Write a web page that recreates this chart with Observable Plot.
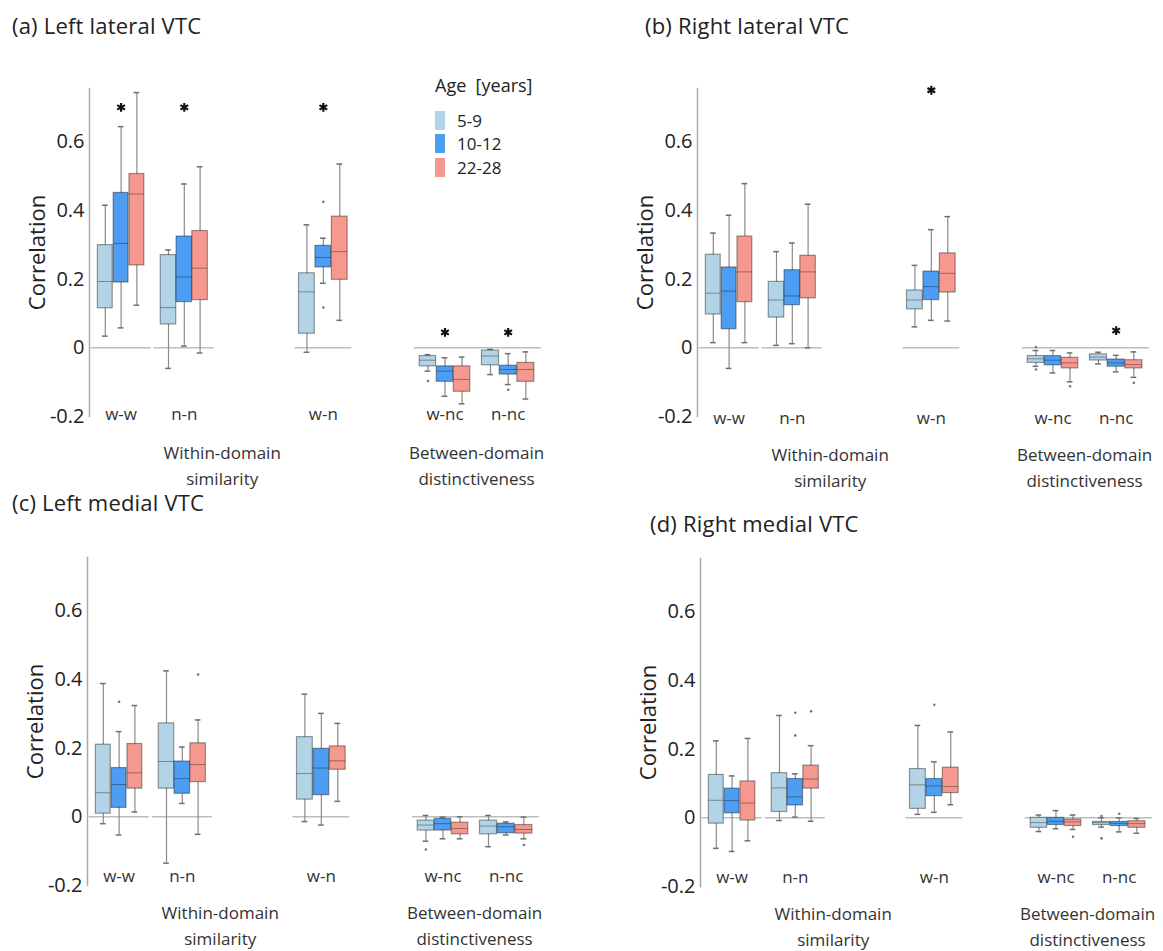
<!DOCTYPE html>
<html><head><meta charset="utf-8">
<script src="https://cdn.jsdelivr.net/npm/d3@7"></script>
<script src="https://cdn.jsdelivr.net/npm/@observablehq/plot@0.6"></script>
<style>
html,body{margin:0;padding:0;background:#fff;overflow:hidden}
#fig{position:relative;width:1163px;height:951px;overflow:hidden;font-family:"Open Sans","Noto Sans",sans-serif;color:#222}
.panel{position:absolute;width:600px}
.panel svg{overflow:visible;max-width:none !important}
.title{position:absolute;font-size:22px;letter-spacing:0.2px;line-height:22px;white-space:nowrap;color:#222}
.legend{position:absolute;font-size:17px;color:#222;width:130px}
.legend .lt{position:absolute;left:0;top:0;line-height:26px;white-space:pre;font-size:18px}
.legend .item{position:absolute;left:0;height:20px;display:flex;align-items:center;white-space:nowrap}
.legend .sw{width:10px;height:19px;margin-right:12px;flex:none}
</style></head><body><div id="fig"></div>
<script>
// ---------- data ----------
const categories = ["w-w", "n-n", "w-n", "w-nc", "n-nc"];
const ages = ["5-9", "10-12", "22-28"];
const ageColors = ["#b3d3e6", "#4d9ef2", "#f5998f"];
const yTicks = [-0.2, 0, 0.2, 0.4, 0.6];
const panelTitles = ["(a) Left lateral VTC", "(b) Right lateral VTC", "(c) Left medial VTC", "(d) Right medial VTC"];
const groupNames = ["Within-domain\nsimilarity", "Between-domain\ndistinctiveness"];
const groupMembers = [["w-w", "n-n", "w-n"], ["w-nc", "n-nc"]];

// rows: category x age (5-9, 10-12, 22-28); [whisker low, q1, median, q3, whisker high]
const leftLateral = [
  [0.034, 0.115, 0.193, 0.299, 0.415], [0.058, 0.190, 0.304, 0.451, 0.644], [0.124, 0.240, 0.448, 0.506, 0.743],
  [-0.060, 0.068, 0.117, 0.270, 0.285], [0.005, 0.133, 0.206, 0.324, 0.477], [-0.015, 0.139, 0.232, 0.340, 0.527],
  [-0.013, 0.041, 0.163, 0.217, 0.358], [0.188, 0.234, 0.263, 0.297, 0.319], [0.080, 0.198, 0.280, 0.382, 0.535],
  [-0.068, -0.054, -0.036, -0.024, -0.020], [-0.141, -0.099, -0.068, -0.054, -0.029], [-0.163, -0.128, -0.092, -0.054, -0.027],
  [-0.078, -0.051, -0.024, -0.008, -0.005], [-0.107, -0.078, -0.063, -0.052, -0.017], [-0.149, -0.099, -0.063, -0.044, -0.012]
];
const rightLateral = [
  [0.015, 0.097, 0.159, 0.271, 0.334], [-0.060, 0.054, 0.165, 0.234, 0.386], [0.015, 0.133, 0.221, 0.324, 0.478],
  [0.007, 0.088, 0.139, 0.192, 0.280], [0.012, 0.124, 0.151, 0.226, 0.305], [0.000, 0.144, 0.221, 0.268, 0.418],
  [0.061, 0.112, 0.139, 0.167, 0.240], [0.080, 0.139, 0.178, 0.222, 0.344], [0.078, 0.161, 0.217, 0.275, 0.382],
  [-0.054, -0.044, -0.032, -0.024, -0.008], [-0.073, -0.051, -0.036, -0.024, -0.008], [-0.099, -0.060, -0.044, -0.029, -0.015],
  [-0.047, -0.037, -0.027, -0.019, -0.013], [-0.070, -0.055, -0.044, -0.034, -0.022], [-0.086, -0.060, -0.049, -0.036, -0.012]
];
const leftMedial = [
  [-0.020, 0.009, 0.070, 0.210, 0.388], [-0.053, 0.026, 0.094, 0.142, 0.248], [0.014, 0.082, 0.128, 0.212, 0.324],
  [-0.135, 0.082, 0.161, 0.272, 0.425], [0.039, 0.067, 0.111, 0.161, 0.203], [-0.051, 0.101, 0.152, 0.214, 0.282],
  [-0.014, 0.050, 0.126, 0.232, 0.357], [-0.024, 0.063, 0.142, 0.198, 0.301], [0.045, 0.137, 0.163, 0.205, 0.272],
  [-0.071, -0.040, -0.024, -0.011, 0.004], [-0.064, -0.040, -0.020, -0.006, -0.001], [-0.064, -0.051, -0.034, -0.017, 0.000],
  [-0.087, -0.051, -0.027, -0.011, 0.004], [-0.053, -0.048, -0.029, -0.020, -0.015], [-0.064, -0.049, -0.037, -0.024, -0.001]
];
const rightMedial = [
  [-0.089, -0.017, 0.051, 0.125, 0.224], [-0.098, 0.013, 0.050, 0.085, 0.122], [-0.067, -0.008, 0.043, 0.106, 0.231],
  [-0.008, 0.017, 0.087, 0.130, 0.298], [0.002, 0.036, 0.061, 0.113, 0.128], [-0.010, 0.085, 0.113, 0.152, 0.210],
  [0.010, 0.026, 0.096, 0.142, 0.269], [0.016, 0.063, 0.093, 0.113, 0.163], [0.038, 0.072, 0.091, 0.146, 0.250],
  [-0.040, -0.029, -0.014, 0.000, 0.008], [-0.032, -0.021, -0.010, 0.000, 0.021], [-0.034, -0.024, -0.012, -0.005, 0.008],
  [-0.027, -0.021, -0.014, -0.012, 0.000], [-0.041, -0.024, -0.016, -0.012, 0.000], [-0.045, -0.029, -0.017, -0.010, -0.002]
];

// outliers: [category, age, value]
const leftLateralOutliers = [["w-n", "10-12", 0.425], ["w-n", "10-12", 0.117], ["w-nc", "5-9", -0.097], ["n-nc", "10-12", -0.122]];
const rightLateralOutliers = [["w-nc", "5-9", -0.063], ["w-nc", "5-9", 0.002], ["w-nc", "22-28", -0.112], ["n-nc", "22-28", -0.102]];
const leftMedialOutliers = [["w-w", "10-12", 0.335], ["n-n", "22-28", 0.414], ["w-nc", "5-9", -0.095], ["n-nc", "22-28", -0.082]];
const rightMedialOutliers = [["n-n", "10-12", 0.306], ["n-n", "10-12", 0.240], ["n-n", "22-28", 0.310], ["w-n", "10-12", 0.329],
  ["w-nc", "22-28", -0.055], ["n-nc", "5-9", 0.005], ["n-nc", "5-9", -0.060], ["n-nc", "10-12", 0.012]];

// significant age effects: [category, y of the asterisk]
const leftLateralSig = [["w-w", 0.70], ["n-n", 0.70], ["w-n", 0.70], ["w-nc", 0.045], ["n-nc", 0.045]];
const rightLateralSig = [["w-n", 0.75], ["n-nc", 0.05]];
const leftMedialSig = [];
const rightMedialSig = [];

// ---------- layout ----------
const slot = {"w-w": 1, "n-n": 3, "w-n": 7.4, "w-nc": 11.25, "n-nc": 13.25};   // x-scale units
const spread = {"w-w": 0.5, "n-n": 0.5, "w-n": 0.52, "w-nc": 0.54, "n-nc": 0.56};
const halfBox = {"w-w": 0.235, "n-n": 0.245, "w-n": 0.25, "w-nc": 0.26, "n-nc": 0.27};
const zeroHalf = {"w-w": 0.95, "n-n": 0.95, "w-n": 0.9, "w-nc": 0.97, "n-nc": 1.05};
const panels = [
  {rows: leftLateral, outliers: leftLateralOutliers, sig: leftLateralSig, left: 0, top: 40, labDy: 3, grpDy: 47, tl: 12, tt: 14},
  {rows: rightLateral, outliers: rightLateralOutliers, sig: rightLateralSig, left: 608, top: 40, labDy: 7, grpDy: 49, tl: 645, tt: 14},
  {rows: leftMedial, outliers: leftMedialOutliers, sig: leftMedialSig, left: -2, top: 509, labDy: -4, grpDy: 38, tl: 12, tt: 491},
  {rows: rightMedial, outliers: rightMedialOutliers, sig: rightMedialSig, left: 611, top: 510, labDy: -4, grpDy: 38, tl: 650, tt: 512}
];

const fig = document.getElementById("fig");
const bx = (cat, age) => slot[cat] + (ages.indexOf(age) - 1) * spread[cat];

function makePanel(p) {
  const data = p.rows.map((r, i) => ({cat: categories[Math.floor(i / 3)], age: ages[i % 3],
    lo: r[0], q1: r[1], med: r[2], q3: r[3], hi: r[4]}));
  const outs = p.outliers.map(([cat, age, v]) => ({cat, age, v}));
  const sig = p.sig.map(([cat, y]) => ({cat, y}));
  const groups = groupNames.map((name, i) => ({name,
    x: (slot[groupMembers[i][0]] + slot[groupMembers[i][groupMembers[i].length - 1]]) / 2}));
  const cap = 0.09;
  const svg = Plot.plot({
    width: 600, height: 460,
    marginLeft: 89, marginRight: 46.5, marginTop: 48, marginBottom: 84,
    style: {fontFamily: '"Open Sans","Noto Sans",sans-serif', background: "transparent", color: "#222", maxWidth: "none"},
    x: {domain: [0, 14.7], axis: null},
    y: {domain: [-0.2, 0.755], axis: null},
    color: {domain: ages, range: ageColors},
    marks: [
      Plot.frame({anchor: "left", stroke: "#a9a9a9", strokeWidth: 1.5}),
      Plot.axisY({ticks: yTicks, tickSize: 0, tickPadding: 5, label: null, fontSize: 20,
        tickFormat: d => d === 0 ? "0" : String(d)}),
      Plot.text(["Correlation"], {frameAnchor: "left", rotate: -90, dx: -52, textAnchor: "middle", fontSize: 22,
        ariaLabel: "ylabel"}),
      Plot.ruleY(categories, {y: 0, x1: c => slot[c] - zeroHalf[c], x2: c => slot[c] + zeroHalf[c],
        stroke: "#bdbdbd", strokeWidth: 1.5}),
      Plot.ruleX(data, {x: d => bx(d.cat, d.age), y1: "lo", y2: "hi", stroke: "#8a8a8a", strokeWidth: 1.2}),
      Plot.ruleY(data, {y: "hi", x1: d => bx(d.cat, d.age) - cap, x2: d => bx(d.cat, d.age) + cap, stroke: "#6f6f6f", strokeWidth: 1.5}),
      Plot.ruleY(data, {y: "lo", x1: d => bx(d.cat, d.age) - cap, x2: d => bx(d.cat, d.age) + cap, stroke: "#6f6f6f", strokeWidth: 1.5}),
      Plot.rect(data, {x1: d => bx(d.cat, d.age) - halfBox[d.cat], x2: d => bx(d.cat, d.age) + halfBox[d.cat],
        y1: "q1", y2: "q3", fill: "age", stroke: "#000", strokeOpacity: 0.38, strokeWidth: 1.2}),
      Plot.ruleY(data, {y: "med", x1: d => bx(d.cat, d.age) - halfBox[d.cat], x2: d => bx(d.cat, d.age) + halfBox[d.cat],
        stroke: "#000", strokeOpacity: 0.35, strokeWidth: 1}),
      Plot.dot(outs, {x: d => bx(d.cat, d.age), y: "v", r: 1.3, fill: "#777"}),
      Plot.dot(sig, {x: d => slot[d.cat], y: "y", symbol: "asterisk", r: 4.2, stroke: "#111", strokeWidth: 2.2}),
      Plot.text(categories, {x: c => slot[c], frameAnchor: "bottom", dy: p.labDy, fontSize: 17, fill: "#333",
        ariaLabel: "xlabels"}),
      Plot.text(groups, {x: "x", text: "name", frameAnchor: "bottom", dy: p.grpDy, lineAnchor: "middle",
        lineHeight: 1.55, fontSize: 17, fill: "#333", ariaLabel: "grouplabels"})
    ]
  });
  d3.select(svg).selectAll('g[aria-label="xlabels"]').attr("letter-spacing", "0.8px");
  d3.select(svg).selectAll('g[aria-label="grouplabels"]').attr("letter-spacing", "1px");
  d3.select(svg).selectAll('g[aria-label="ylabel"]').attr("letter-spacing", "0.6px");
  return svg;
}

panels.forEach((p, i) => {
  const div = document.createElement("div");
  div.className = "panel";
  div.style.left = p.left + "px";
  div.style.top = p.top + "px";
  div.appendChild(makePanel(p));
  fig.appendChild(div);
});
panels.forEach((p, i) => {
  const t = document.createElement("div");
  t.className = "title";
  t.style.left = p.tl + "px";
  t.style.top = p.tt + "px";
  t.textContent = panelTitles[i];
  fig.appendChild(t);
});

// legend
const lg = d3.select(fig).append("div").attr("class", "legend").style("left", "435px").style("top", "72px");
lg.append("div").attr("class", "lt").text("Age  [years]");
ages.forEach((a, i) => {
  const it = lg.append("div").attr("class", "item").style("top", (38 + i * 23.5) + "px");
  it.append("div").attr("class", "sw").style("background", ageColors[i]);
  it.append("span").text(a);
});
</script></body></html>
